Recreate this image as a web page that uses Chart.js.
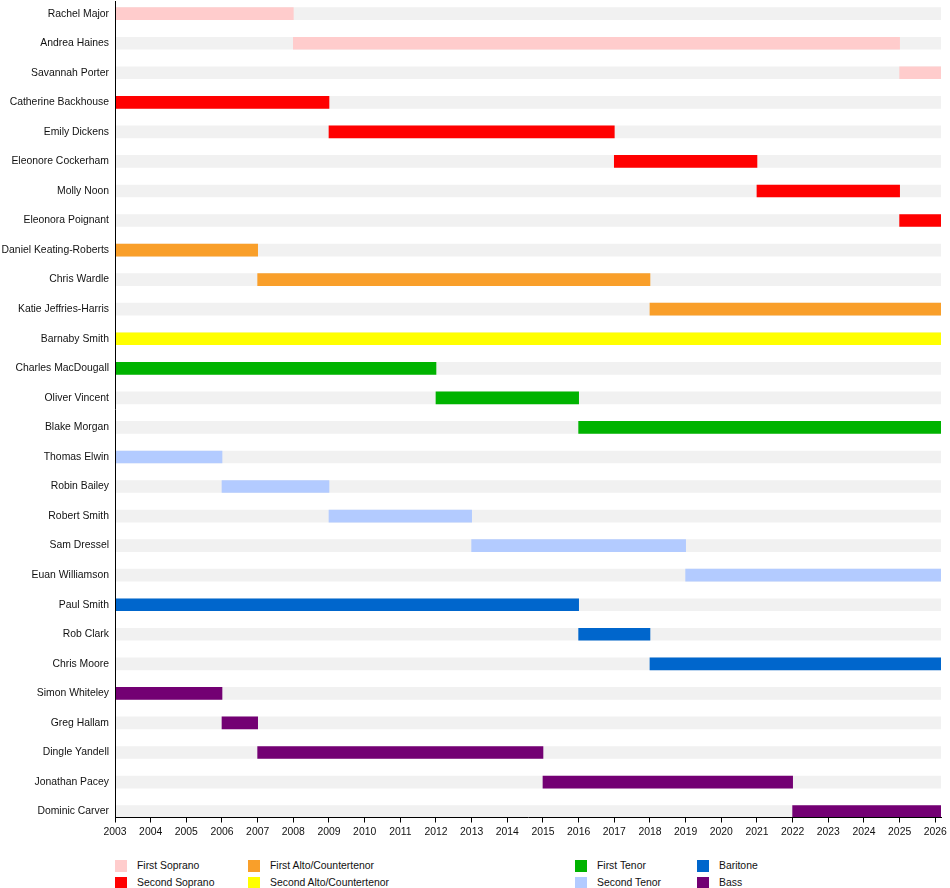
<!DOCTYPE html>
<html><head><meta charset="utf-8">
<script src="https://cdn.jsdelivr.net/npm/chart.js@4/dist/chart.umd.min.js"></script>
<style>
html,body{margin:0;padding:0;background:#fff;overflow:hidden;}
#wrap{position:absolute;left:0;top:-11px;width:950px;height:852px;}
#legend{position:absolute;left:0;top:859px;width:950px;height:31px;font-family:"Liberation Sans",Arial,sans-serif;font-size:10.4px;color:#111;}
.li{position:absolute;height:14px;line-height:14px;white-space:nowrap;}
.sw{position:absolute;left:0;top:1px;width:12px;height:12px;}
.lt{position:absolute;left:22px;top:0;}
</style></head>
<body>
<div id="wrap"><canvas id="c"></canvas></div>
<div id="legend"></div>
<script>
const members = ["Rachel Major","Andrea Haines","Savannah Porter","Catherine Backhouse","Emily Dickens","Eleonore Cockerham","Molly Noon","Eleonora Poignant","Daniel Keating-Roberts","Chris Wardle","Katie Jeffries-Harris","Barnaby Smith","Charles MacDougall","Oliver Vincent","Blake Morgan","Thomas Elwin","Robin Bailey","Robert Smith","Sam Dressel","Euan Williamson","Paul Smith","Rob Clark","Chris Moore","Simon Whiteley","Greg Hallam","Dingle Yandell","Jonathan Pacey","Dominic Carver"];
const startYears = [2003,2008,2025,2003,2009,2017,2021,2025,2003,2007,2018,2003,2003,2012,2016,2003,2006,2009,2013,2019,2003,2016,2018,2003,2006,2007,2015,2022];
const endYears   = [2008,2025,2026.16,2009,2017,2021,2025,2026.16,2007,2018,2026.16,2026.16,2012,2016,2026.16,2006,2009,2013,2019,2026.16,2016,2018,2026.16,2006,2007,2015,2022,2026.16];
const memberParts = [0,0,0,1,1,1,1,1,2,2,2,3,4,4,4,5,5,5,5,5,6,6,6,7,7,7,7,7];
const voiceParts = ["First Soprano","Second Soprano","First Alto/Countertenor","Second Alto/Countertenor","First Tenor","Second Tenor","Baritone","Bass"];
const partColors = ["#ffcccc","#ff0000","#f99f2a","#ffff00","#00b300","#b3cbff","#0066cc","#730073"];
const yearTicks = [2003,2004,2005,2006,2007,2008,2009,2010,2011,2012,2013,2014,2015,2016,2017,2018,2019,2020,2021,2022,2023,2024,2025,2026];
const axisStart = 2003, axisEnd = 2026.16;

const datasets = [];
voiceParts.forEach((p, k) => {
  const data = [];
  members.forEach((m, i) => {
    if (memberParts[i] === k) data.push({x:[startYears[i], endYears[i]], y:i});
  });
  datasets.push({label:p, data, backgroundColor:partColors[k], borderWidth:0, grouped:false, barThickness:12, order:1});
});
datasets.push({label:"bg", data: members.map((m,i)=>({x:[axisStart, axisEnd], y:i})), backgroundColor:"#f1f1f1", borderWidth:0, grouped:false, barThickness:12, order:5});

const font = {family:'"Liberation Sans", Arial, sans-serif', size:10.4};
new Chart(document.getElementById('c'), {
  type:'bar',
  data:{datasets},
  options:{
    indexAxis:'y', responsive:true, maintainAspectRatio:false, animation:false,
    parsing:{xAxisKey:'x', yAxisKey:'y'},
    layout:{padding:{top:-7,right:9,left:0,bottom:0}},
    plugins:{legend:{display:false}, tooltip:{enabled:false}},
    scales:{
      x:{type:'linear', min:axisStart, max:axisEnd,
        afterBuildTicks: s => { s.ticks = yearTicks.map(v=>({value:v})); },
        grid:{display:true, drawOnChartArea:false, drawTicks:true, tickLength:5, color:'#000', lineWidth:1, z:1},
        border:{display:true, color:'#000', width:1, z:1},
        ticks:{color:'#111', font, padding:3, maxRotation:0, autoSkip:false, callback:v=>String(v)}},
      y:{type:'linear', reverse:true, min:-0.42, max:27.2, offset:false,
        afterBuildTicks: s => { s.ticks = members.map((m,i)=>({value:i})); },
        afterFit: s => { s.width = 115; },
        grid:{display:true, drawOnChartArea:false, drawTicks:false, offset:false, color:'rgba(0,0,0,0)'},
        border:{display:true, color:'#000', width:1, z:1},
        ticks:{color:'#111', font, padding:6, autoSkip:false, callback:v=>members[v]}}
    }
  }
});

const lg = document.getElementById('legend');
const cols = [115,248,575,697];
voiceParts.forEach((p,k)=>{
  const d = document.createElement('div'); d.className='li';
  d.style.left = cols[Math.floor(k/2)]+'px'; d.style.top = (k%2)*17+'px';
  d.innerHTML = '<span class="sw" style="background:'+partColors[k]+'"></span><span class="lt">'+p+'</span>';
  lg.appendChild(d);
});
</script>
</body></html>
